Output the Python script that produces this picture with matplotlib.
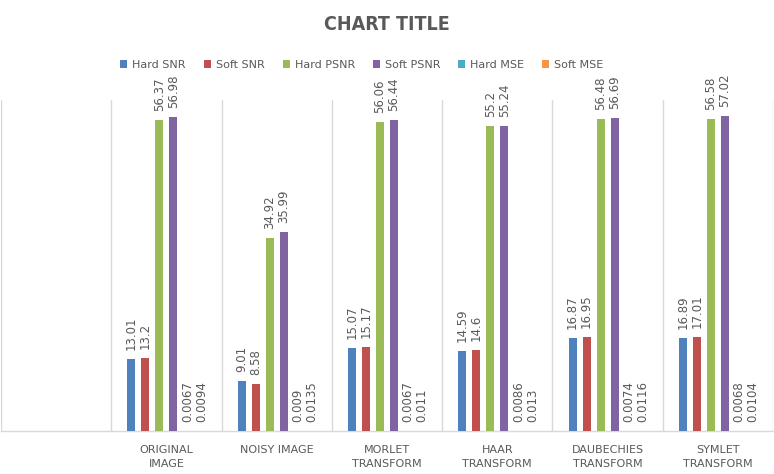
import numpy as np
import matplotlib
matplotlib.use("Agg")
import matplotlib.pyplot as plt

# first category is blank in the original sheet
categories = ["", "ORIGINAL\nIMAGE", "NOISY IMAGE", "MORLET\nTRANSFORM",
              "HAAR\nTRANSFORM", "DAUBECHIES\nTRANSFORM", "SYMLET\nTRANSFORM"]
series_names = ["Hard SNR", "Soft SNR", "Hard PSNR", "Soft PSNR", "Hard MSE", "Soft MSE"]
nan = np.nan
hard_snr = [nan, 13.01, 9.01, 15.07, 14.59, 16.87, 16.89]
soft_snr = [nan, 13.2, 8.58, 15.17, 14.6, 16.95, 17.01]
hard_psnr = [nan, 56.37, 34.92, 56.06, 55.2, 56.48, 56.58]
soft_psnr = [nan, 56.98, 35.99, 56.44, 55.24, 56.69, 57.02]
hard_mse = [nan, 0.0067, 0.009, 0.0067, 0.0086, 0.0074, 0.0068]
soft_mse = [nan, 0.0094, 0.0135, 0.011, 0.013, 0.0116, 0.0104]
label_text = {
    "Hard SNR": ["", "13.01", "9.01", "15.07", "14.59", "16.87", "16.89"],
    "Soft SNR": ["", "13.2", "8.58", "15.17", "14.6", "16.95", "17.01"],
    "Hard PSNR": ["", "56.37", "34.92", "56.06", "55.2", "56.48", "56.58"],
    "Soft PSNR": ["", "56.98", "35.99", "56.44", "55.24", "56.69", "57.02"],
    "Hard MSE": ["", "0.0067", "0.009", "0.0067", "0.0086", "0.0074", "0.0068"],
    "Soft MSE": ["", "0.0094", "0.0135", "0.011", "0.013", "0.0116", "0.0104"],
}
colors = ["#4F81BD", "#C0504D", "#9BBB59", "#8064A2", "#4BACC6", "#F79646"]

series = [hard_snr, soft_snr, hard_psnr, soft_psnr, hard_mse, soft_mse]
grey = "#595959"
light = "#D9D9D9"

fig = plt.figure(figsize=(7.74, 4.74), dpi=100)
ax = fig.add_axes([1 / 774, 43 / 474, 772 / 774, 331 / 474])

x = np.arange(len(categories))
step = 0.127
width = 0.0725
handles = []
for i, (name, vals, col) in enumerate(zip(series_names, series, colors)):
    pos = x + (i - 2.5) * step
    b = ax.bar(pos, vals, width, color=col, label=name, zorder=3)
    handles.append(b)
    for px, v, t in zip(pos, vals, label_text[name]):
        if np.isnan(v):
            continue
        ax.annotate(t, (px, v), xytext=(0, 9), textcoords="offset pixels",
                    rotation=90, ha="center", va="bottom", fontsize=8.5,
                    color=grey, annotation_clip=False)

ax.set_xlim(-0.5, len(categories) - 0.5)
ax.set_ylim(0, 60)
ax.set_yticks([])
ax.set_xticks(x)
ax.set_xticklabels(categories, fontsize=8, color=grey, linespacing=1.5)
ax.set_xticks(np.arange(-0.5, len(categories)), minor=True)
ax.tick_params(axis="x", which="both", length=0, pad=10)
ax.grid(axis="x", which="minor", color=light, linewidth=1, zorder=0)
for s in ["top", "left", "right"]:
    ax.spines[s].set_visible(False)
ax.spines["bottom"].set_color(light)
ax.spines["bottom"].set_linewidth(1)

fig.text(0.5, 1 - 24 / 474, "CHART TITLE", ha="center", va="center",
         fontsize=14, fontweight="bold", color=grey, fontstretch="condensed")

fig.legend(handles=handles, loc="center", bbox_to_anchor=(362 / 774, 1 - 65 / 474),
           ncol=6, frameon=False, fontsize=8, labelcolor=grey,
           handlelength=0.65, handleheight=0.65, handletextpad=0.45,
           columnspacing=1.6)

fig.savefig("out.png", dpi=100)
